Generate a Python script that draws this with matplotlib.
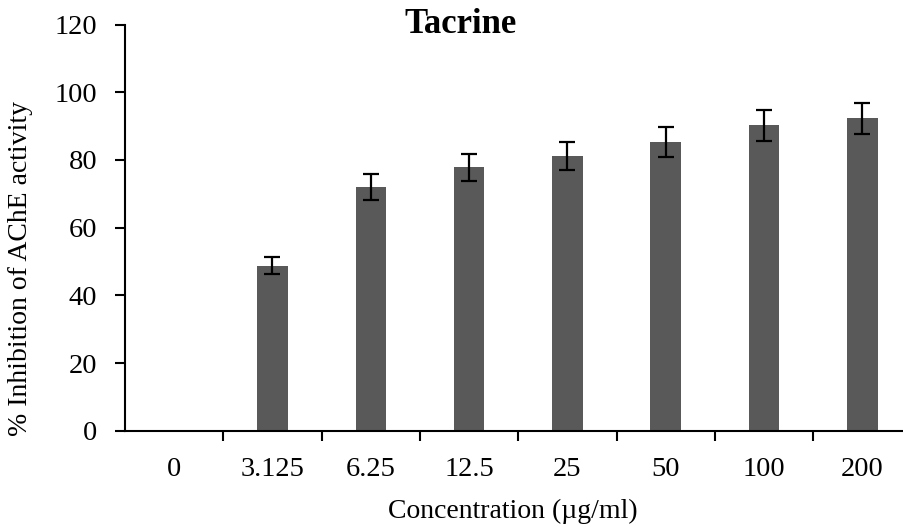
import numpy as np
import matplotlib
matplotlib.use("Agg")
import matplotlib.pyplot as plt

plt.rcParams['font.family'] = ['Liberation Serif', 'DejaVu Serif']

concentrations = ['0', '3.125', '6.25', '12.5', '25', '50', '100', '200']
inhibition = [0, 48.8, 72.0, 77.8, 81.1, 85.3, 90.2, 92.3]
errors = [0, 2.5, 3.8, 4.0, 4.2, 4.3, 4.5, 4.6]

fig = plt.figure(figsize=(9.04, 5.27), dpi=100)
ax = fig.add_axes([0.1383, 0.1822, 0.870, 0.7713])

x = np.arange(len(concentrations))
ax.bar(x[1:], inhibition[1:], width=0.31, color='#595959', zorder=2)
ax.errorbar(x[1:], inhibition[1:], yerr=errors[1:], fmt='none', ecolor='black',
            elinewidth=1.6, capsize=6, capthick=1.6, zorder=3)

ax.set_xlim(-0.5, 7.5)
ax.set_ylim(0, 120)
ax.set_yticks(range(0, 121, 20))
ax.set_xticks(x)
ax.set_xticklabels(concentrations)
ax.set_xticks(np.arange(0.5, 7.5, 1), minor=True)
ax.tick_params(axis='x', which='major', length=0, pad=18.5, labelsize=20.5)
ax.tick_params(axis='x', which='minor', length=7, width=1.5, direction='out')
ax.tick_params(axis='y', length=7, width=1.5, direction='out', labelsize=20.5, pad=13)

for side in ['top', 'right']:
    ax.spines[side].set_visible(False)
for side in ['left', 'bottom']:
    ax.spines[side].set_linewidth(1.5)

ax.set_xlabel('Concentration (µg/ml)', fontsize=20)
ax.xaxis.label.set_va('baseline')
ax.xaxis.set_label_coords(0.493, -0.214)
ax.set_ylabel('% Inhibition of AChE activity', fontsize=20)
ax.yaxis.set_label_coords(-0.117, 0.40)
fig.text(461 / 904, 1 - 33 / 527, 'Tacrine', fontsize=25, fontweight='bold',
         ha='center', va='baseline')

fig.savefig('out.png', dpi=100)
